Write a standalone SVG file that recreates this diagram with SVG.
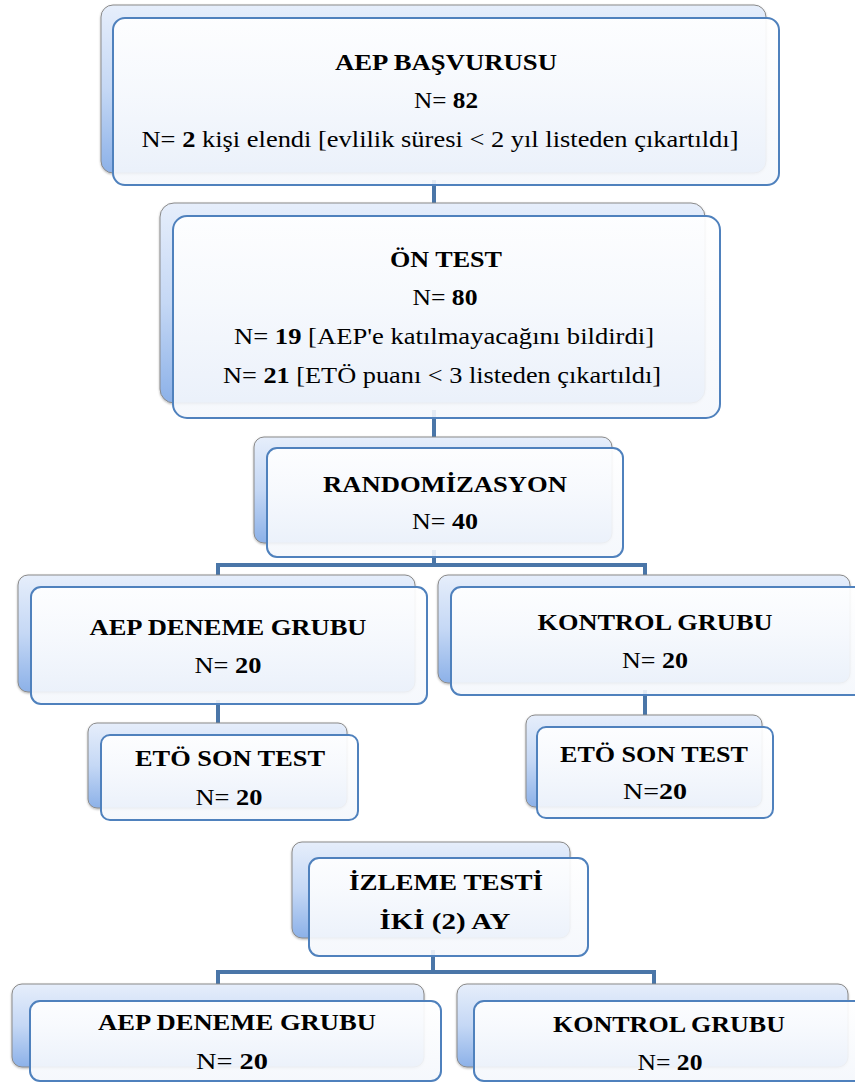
<svg xmlns="http://www.w3.org/2000/svg" width="855" height="1083" viewBox="0 0 855 1083">
<defs>
<linearGradient id="gBack" x1="0" y1="0" x2="0" y2="1">
<stop offset="0" stop-color="#e6eefb"/>
<stop offset="0.5" stop-color="#c5d8f5"/>
<stop offset="1" stop-color="#8cb1e8"/>
</linearGradient>
<linearGradient id="gFront" x1="0" y1="0" x2="0" y2="1">
<stop offset="0" stop-color="#ffffff" stop-opacity="0.93"/>
<stop offset="1" stop-color="#f4f7fc" stop-opacity="0.9"/>
</linearGradient>
<filter id="sh" x="-5%" y="-5%" width="110%" height="115%">
<feDropShadow dx="0" dy="1" stdDeviation="1" flood-color="#000" flood-opacity="0.3"/>
</filter>
</defs>
<style>
.back{fill:url(#gBack);stroke:#8a8a8a;stroke-width:1;filter:url(#sh)}
.front{fill:url(#gFront);stroke:#4f81bd;stroke-width:2}
.conn{fill:none;stroke:#4a76a8;stroke-width:4}
text{font-family:"Liberation Serif","Times New Roman",serif;font-size:23px;fill:#000;text-anchor:middle}
.b{font-weight:bold}
</style>
<g id="connectors">
<path class="conn" d="M434 180 V222"/>
<path class="conn" d="M434 410 V452"/>
<path class="conn" d="M434 550 V565 M218 565 H645 M218 563 V592 M645 563 V592"/>
<path class="conn" d="M218 700 V740"/>
<path class="conn" d="M645 690 V732"/>
<path class="conn" d="M433 950 V972 M218 972 H654 M218 970 V1006 M654 970 V1006"/>
</g>
<g id="n1">
<rect class="back" x="101" y="5" width="665" height="168" rx="12"/>
<rect class="front" x="113" y="18" width="666" height="167" rx="12"/>
<text x="446" y="70" class="b" textLength="222" lengthAdjust="spacingAndGlyphs">AEP BAŞVURUSU</text>
<text x="446" y="108" textLength="64" lengthAdjust="spacingAndGlyphs">N= <tspan class="b">82</tspan></text>
<text x="440" y="147" textLength="597" lengthAdjust="spacingAndGlyphs">N= <tspan class="b">2</tspan> kişi elendi [evlilik süresi &lt; 2 yıl listeden çıkartıldı]</text>
</g>
<g id="n2">
<rect class="back" x="160" y="203" width="545" height="200" rx="14"/>
<rect class="front" x="173" y="216" width="547" height="202" rx="14"/>
<text x="446" y="267" class="b" textLength="112" lengthAdjust="spacingAndGlyphs">ÖN TEST</text>
<text x="445" y="305" textLength="65" lengthAdjust="spacingAndGlyphs">N= <tspan class="b">80</tspan></text>
<text x="444" y="344" textLength="420" lengthAdjust="spacingAndGlyphs">N= <tspan class="b">19</tspan> [AEP'e katılmayacağını bildirdi]</text>
<text x="442" y="383" textLength="438" lengthAdjust="spacingAndGlyphs">N= <tspan class="b">21</tspan> [ETÖ puanı &lt; 3 listeden çıkartıldı]</text>
</g>
<g id="n3">
<rect class="back" x="254" y="437" width="358" height="106" rx="10"/>
<rect class="front" x="267" y="448" width="356" height="109" rx="10"/>
<text x="445" y="492" class="b" textLength="244" lengthAdjust="spacingAndGlyphs">RANDOMİZASYON</text>
<text x="445" y="529" textLength="66" lengthAdjust="spacingAndGlyphs">N= <tspan class="b">40</tspan></text>
</g>
<g id="n4">
<rect class="back" x="18" y="575" width="397" height="117" rx="10"/>
<rect class="front" x="31" y="587" width="396" height="117" rx="10"/>
<text x="228" y="635" class="b" textLength="277" lengthAdjust="spacingAndGlyphs">AEP DENEME GRUBU</text>
<text x="228" y="673" textLength="67" lengthAdjust="spacingAndGlyphs">N= <tspan class="b">20</tspan></text>
</g>
<g id="n5">
<rect class="back" x="438" y="575" width="412" height="108" rx="10"/>
<rect class="front" x="451" y="587" width="420" height="108" rx="10"/>
<text x="655" y="630" class="b" textLength="235" lengthAdjust="spacingAndGlyphs">KONTROL GRUBU</text>
<text x="655" y="668" textLength="66" lengthAdjust="spacingAndGlyphs">N= <tspan class="b">20</tspan></text>
</g>
<g id="n6">
<rect class="back" x="88" y="723" width="259" height="85" rx="9"/>
<rect class="front" x="101" y="735" width="257" height="85" rx="9"/>
<text x="230" y="766" class="b" textLength="190" lengthAdjust="spacingAndGlyphs">ETÖ SON TEST</text>
<text x="229" y="805" textLength="67" lengthAdjust="spacingAndGlyphs">N= <tspan class="b">20</tspan></text>
</g>
<g id="n7">
<rect class="back" x="526" y="715" width="236" height="92" rx="9"/>
<rect class="front" x="537" y="727" width="236" height="91" rx="9"/>
<text x="654" y="762" class="b" textLength="188" lengthAdjust="spacingAndGlyphs">ETÖ SON TEST</text>
<text x="655" y="799" textLength="64" lengthAdjust="spacingAndGlyphs">N=<tspan class="b">20</tspan></text>
</g>
<g id="n8">
<rect class="back" x="292" y="842" width="278" height="96" rx="10"/>
<rect class="front" x="309" y="858" width="279" height="98" rx="10"/>
<text x="446" y="890" class="b" textLength="194" lengthAdjust="spacingAndGlyphs">İZLEME TESTİ</text>
<text x="445" y="929" class="b" textLength="131" lengthAdjust="spacingAndGlyphs">İKİ (2) AY</text>
</g>
<g id="n9">
<rect class="back" x="12" y="984" width="412" height="83" rx="10"/>
<rect class="front" x="30" y="1001" width="411" height="80" rx="10"/>
<text x="237" y="1030" class="b" textLength="278" lengthAdjust="spacingAndGlyphs">AEP DENEME GRUBU</text>
<text x="232" y="1069" textLength="72" lengthAdjust="spacingAndGlyphs">N= <tspan class="b">20</tspan></text>
</g>
<g id="n10">
<rect class="back" x="457" y="984" width="391" height="83" rx="10"/>
<rect class="front" x="474" y="1001" width="400" height="80" rx="10"/>
<text x="669" y="1032" class="b" textLength="232" lengthAdjust="spacingAndGlyphs">KONTROL GRUBU</text>
<text x="670" y="1070" textLength="65" lengthAdjust="spacingAndGlyphs">N= <tspan class="b">20</tspan></text>
</g>
</svg>
